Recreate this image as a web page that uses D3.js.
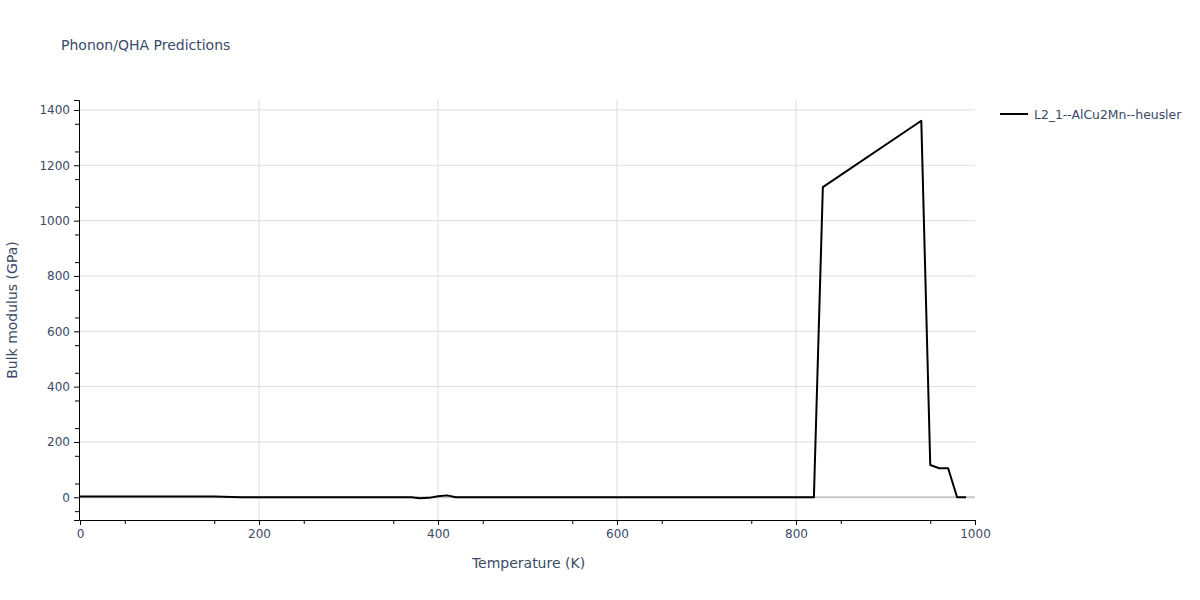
<!DOCTYPE html>
<html><head><meta charset="utf-8">
<script src="https://cdn.jsdelivr.net/npm/d3@7"></script>
<style>body{margin:0;background:#fff;} text{font-family:"DejaVu Sans",Verdana,sans-serif;}</style>
</head><body><svg id="c" width="1200" height="600"></svg>
<script>
const temperatures = [0, 150, 160, 170, 180, 370, 380, 390, 400, 410, 420, 820, 830, 940, 950, 960, 970, 980, 990];
const bulkModulus  = [3, 3, 2, 1, 0, 0, -3, -2, 4, 7, 0, 0, 1121, 1361, 117, 105, 105, 0, 0];
const seriesName = "L2_1--AlCu2Mn--heusler";
const xTicks = [0, 200, 400, 600, 800, 1000];
const yTicks = [0, 200, 400, 600, 800, 1000, 1200, 1400];

const svg = d3.select("#c");
const L = 80, R = 975, T = 100, B = 520;
const x = d3.scaleLinear().domain([0, 1000]).range([L, R]);
const y = d3.scaleLinear().domain([-82, 1436]).range([B, T]);
const txt = "#3a4a68";

// grid
svg.append("g").selectAll("line").data(xTicks.filter(d => d > 0 && d < 1000)).join("line")
  .attr("x1", d => x(d)).attr("x2", d => x(d)).attr("y1", T).attr("y2", B)
  .attr("stroke", "#dddddd").attr("stroke-width", 1);
svg.append("g").selectAll("line").data(yTicks.filter(d => d !== 0)).join("line")
  .attr("x1", L).attr("x2", R).attr("y1", d => y(d)).attr("y2", d => y(d))
  .attr("stroke", "#dddddd").attr("stroke-width", 1);
svg.append("line").attr("x1", L).attr("x2", R).attr("y1", y(0)).attr("y2", y(0))
  .attr("stroke", "#c8c8c8").attr("stroke-width", 2);

// axes
const xAxis = d3.axisBottom(x).tickValues(xTicks).tickSize(5).tickPadding(4).tickFormat(d3.format("d"));
const gx = svg.append("g").attr("transform", `translate(0,${B})`).call(xAxis);
const xMinor = d3.axisBottom(x).tickValues(d3.range(50, 1000, 100)).tickSize(4).tickFormat("");
const gxm = svg.append("g").attr("transform", `translate(0,${B})`).call(xMinor);
const yAxis = d3.axisLeft(y).tickValues(yTicks).tickSize(5).tickPadding(4).tickFormat(d3.format("d"));
const gy = svg.append("g").attr("transform", `translate(${L - 1},0)`).call(yAxis);
const yMinor = d3.axisLeft(y).tickValues([-50, ...d3.range(50, 1436, 100)]).tickSize(4).tickFormat("");
const gym = svg.append("g").attr("transform", `translate(${L - 1},0)`).call(yMinor);
[gx, gxm, gy, gym].forEach(g => {
  g.select(".domain").attr("stroke", "#000").attr("stroke-width", 1);
  g.selectAll(".tick line").attr("stroke", "#000");
  g.selectAll(".tick text").attr("fill", txt).style("font-size", "12px");
});
gxm.select(".domain").remove(); gym.select(".domain").remove();

// line
const line = d3.line().x((d, i) => x(temperatures[i])).y(d => y(d));
svg.append("path").datum(bulkModulus).attr("d", line)
  .attr("fill", "none").attr("stroke", "#000").attr("stroke-width", 2).attr("stroke-linejoin", "round");

// titles
svg.append("text").attr("x", 61).attr("y", 50).attr("fill", txt).style("font-size", "14px").text("Phonon/QHA Predictions");
svg.append("text").attr("x", (L + R) / 2 + 1).attr("y", 568).attr("text-anchor", "middle").attr("fill", txt).style("font-size", "14px").text("Temperature (K)");
svg.append("text").attr("transform", `translate(17,${(T + B) / 2}) rotate(-90)`).attr("text-anchor", "middle").attr("fill", txt).style("font-size", "14px").text("Bulk modulus (GPa)");

// legend
svg.append("line").attr("x1", 1000).attr("x2", 1028).attr("y1", 114).attr("y2", 114).attr("stroke", "#000").attr("stroke-width", 2);
svg.append("text").attr("x", 1034).attr("y", 118.5).attr("fill", txt).style("font-size", "12.4px").text(seriesName);
</script></body></html>
